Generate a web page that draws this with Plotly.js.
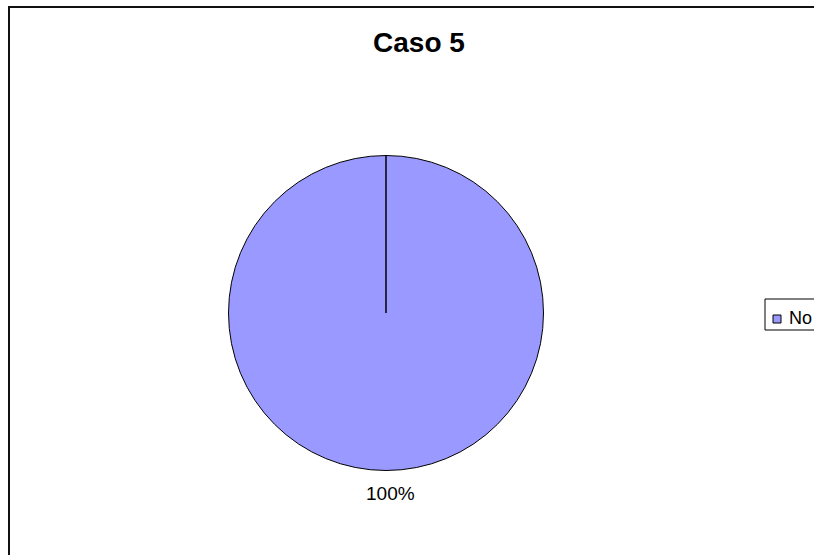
<!DOCTYPE html>
<html>
<head>
<meta charset="utf-8">
<script src="https://cdn.plot.ly/plotly-3.0.1.min.js"></script>
<style>
  html, body { margin: 0; padding: 0; background: #fff; overflow: hidden; }
  #chart { width: 900px; height: 555px; }
</style>
</head>
<body>
<div id="chart"></div>
<script>
// Data
const chartTitle = "Caso 5";
const labels = ["No"];
const values = [1];
const sliceColors = ["#9999FF"];

// Layout geometry (pixels); the drawing is wider than the 814px window so the
// legend box runs off the right edge like in the reference
const W = 900, H = 555;
const pieCx = 386, pieCy = 313, pieR = 157.5;
const dom = {
  x: [(pieCx - pieR) / W, (pieCx + pieR) / W],
  y: [1 - (pieCy + pieR) / H, 1 - (pieCy - pieR) / H]
};

const total = values.reduce((a, b) => a + b, 0);
const pctText = Math.round(100 * values[0] / total) + "%";

const fontFam = "Liberation Sans, Arial, sans-serif";
const px = v => v / W;
const py = v => 1 - v / H;

const trace = {
  type: "pie",
  labels: labels,
  values: values,
  sort: false,
  direction: "clockwise",
  rotation: 0,
  domain: dom,
  marker: { colors: sliceColors, line: { color: "#000000", width: 1 } },
  textinfo: "none",
  hoverinfo: "none",
  showlegend: false
};

// Legend (drawn as box + swatch + label, cut at the window edge as in the reference)
const legBox = { x0: 765, y0: 299, y1: 330 };
const swatch = { x0: 773, x1: 781, y0: 315, y1: 323 };

const layout = {
  width: W,
  height: H,
  margin: { l: 0, r: 0, t: 0, b: 0 },
  paper_bgcolor: "#ffffff",
  title: {
    text: "<b>" + chartTitle + "</b>",
    x: 419 / W,
    xanchor: "center",
    xref: "paper",
    y: 1 - 42 / H,
    yanchor: "middle",
    yref: "paper",
    font: { family: fontFam, size: 28, color: "#000" }
  },
  showlegend: false,
  annotations: [
    { xref: "paper", yref: "paper", x: px(390), y: py(493),
      xanchor: "center", yanchor: "middle", showarrow: false,
      text: pctText, font: { family: fontFam, size: 19, color: "#000" } },
    { xref: "paper", yref: "paper", x: px(787), y: py(318),
      xanchor: "left", yanchor: "middle", showarrow: false,
      text: labels[0], font: { family: fontFam, size: 18, color: "#000" } }
  ],
  shapes: [
    { type: "rect", xref: "paper", yref: "paper",
      x0: px(9), x1: 1.2, y0: -0.2, y1: py(7),
      line: { color: "#111111", width: 2 }, fillcolor: "rgba(0,0,0,0)", layer: "below" },
    { type: "line", xref: "paper", yref: "paper",
      x0: px(pieCx), x1: px(pieCx),
      y0: py(pieCy), y1: py(pieCy - pieR),
      line: { color: "#000000", width: 1.5 } },
    { type: "rect", xref: "paper", yref: "paper",
      x0: px(legBox.x0), x1: 1.1, y0: py(legBox.y1), y1: py(legBox.y0),
      line: { color: "#000000", width: 1 }, fillcolor: "#ffffff" },
    { type: "rect", xref: "paper", yref: "paper",
      x0: px(swatch.x0), x1: px(swatch.x1), y0: py(swatch.y1), y1: py(swatch.y0),
      line: { color: "#000000", width: 1 }, fillcolor: sliceColors[0] }
  ],
  hovermode: false
};

Plotly.newPlot("chart", [trace], layout, { staticPlot: true, displayModeBar: false });
</script>
</body>
</html>
